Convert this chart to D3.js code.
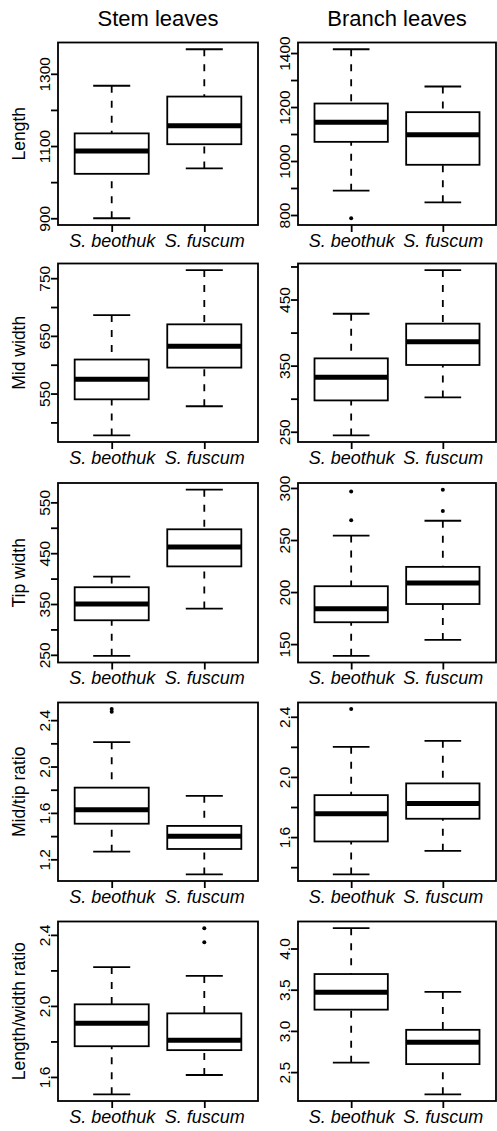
<!DOCTYPE html>
<html><head><meta charset="utf-8">
<script src="https://cdn.jsdelivr.net/npm/d3@7"></script>
<style>
body{margin:0;background:#fff}
svg{display:block}
text{font-family:"Liberation Sans",Arial,sans-serif;fill:#000}
</style>
</head><body><svg id="c" width="497" height="1131"></svg>
<script>
// ---------- data ----------
const species = ["S. beothuk", "S. fuscum"];
const leafTypes = ["Stem leaves", "Branch leaves"];
const measures = ["Length", "Mid width", "Tip width", "Mid/tip ratio", "Length/width ratio"];

// five-number summaries: [lower whisker, Q1, median, Q3, upper whisker], one per measure
const stemBeothuk = [
  [900, 1023, 1086, 1135, 1267],
  [477.5, 540, 575, 609, 686],
  [248, 318, 350, 383, 404],
  [1.266, 1.507, 1.628, 1.818, 2.21],
  [1.502, 1.773, 1.902, 2.009, 2.219]
];
const stemFuscum = [
  [1038, 1105, 1156, 1237, 1368],
  [528, 595, 632, 670, 764],
  [341, 424, 462, 497, 575],
  [1.07, 1.289, 1.399, 1.488, 1.747],
  [1.611, 1.751, 1.807, 1.958, 2.169]
];
const branchBeothuk = [
  [890, 1071, 1144, 1213, 1414],
  [244.5, 297.4, 332.5, 361, 428.5],
  [138.7, 171, 184, 205.6, 254.3],
  [1.352, 1.571, 1.755, 1.879, 2.2],
  [2.614, 3.258, 3.468, 3.69, 4.247]
];
const branchFuscum = [
  [847, 986, 1097, 1181, 1276],
  [302, 351, 386, 413.5, 494.5],
  [154, 188.5, 208.8, 224.2, 268.5],
  [1.509, 1.722, 1.824, 1.957, 2.24],
  [2.23, 2.597, 2.863, 3.013, 3.473]
];

// outliers, one list per measure
const stemBeothukOut = [[], [], [], [2.472, 2.495], []];
const stemFuscumOut = [[], [], [], [], [2.359, 2.438]];
const branchBeothukOut = [[788], [], [269, 296.7], [2.451], []];
const branchFuscumOut = [[], [], [278, 298.4], [], []];

// y ticks and their labels ("" = unlabeled tick)
const stemTicks = [
  [900, 1000, 1100, 1200, 1300],
  [500, 550, 600, 650, 700, 750],
  [250, 300, 350, 400, 450, 500, 550],
  [1.2, 1.4, 1.6, 1.8, 2.0, 2.2, 2.4],
  [1.6, 1.8, 2.0, 2.2, 2.4]
];
const stemTickLabels = [
  ["900", "", "1100", "", "1300"],
  ["", "550", "", "650", "", "750"],
  ["250", "", "350", "", "450", "", "550"],
  ["1.2", "", "1.6", "", "2.0", "", "2.4"],
  ["1.6", "", "2.0", "", "2.4"]
];
const branchTicks = [
  [800, 900, 1000, 1100, 1200, 1300, 1400],
  [250, 300, 350, 400, 450, 500],
  [150, 200, 250, 300],
  [1.4, 1.6, 1.8, 2.0, 2.2, 2.4],
  [2.5, 3.0, 3.5, 4.0]
];
const branchTickLabels = [
  ["800", "", "1000", "", "1200", "", "1400"],
  ["250", "", "350", "", "450", ""],
  ["150", "200", "250", "300"],
  ["", "1.6", "", "2.0", "", "2.4"],
  ["2.5", "3.0", "3.5", "4.0"]
];

// ---------- layout ----------
const colX = [58, 298], colW = [200, 198];
const rowTop = [42.5, 263.5, 483, 702.5, 921.5];
const rowH = [182.5, 178.5, 179.5, 178.5, 179.5];
const LW = 1.8;

const svg = d3.select("#c");
svg.append("rect").attr("width", 497).attr("height", 1131).attr("fill", "#fff");

const cols = [
  {stats: [stemBeothuk, stemFuscum], outs: [stemBeothukOut, stemFuscumOut], ticks: stemTicks, labels: stemTickLabels},
  {stats: [branchBeothuk, branchFuscum], outs: [branchBeothukOut, branchFuscumOut], ticks: branchTicks, labels: branchTickLabels}
];

cols.forEach((col, c) => {
  svg.append("text")
    .attr("x", colX[c] + colW[c] / 2).attr("y", 26)
    .attr("text-anchor", "middle").style("font-size", "22px")
    .text(leafTypes[c]);

  measures.forEach((m, r) => {
    const top = rowTop[r], bottom = rowTop[r] + rowH[r];
    const left = colX[c], right = colX[c] + colW[c];
    const all = [];
    col.stats.forEach((s, k) => { all.push(...s[r], ...col.outs[k][r]); });
    const lo = d3.min(all), hi = d3.max(all), pad = (hi - lo) * 0.04;
    const y = d3.scaleLinear().domain([lo - pad, hi + pad]).range([bottom, top]);
    const x = d3.scaleLinear().domain([0.42, 2.58]).range([left, right]);
    const g = svg.append("g");

    // y axis
    const ya = g.append("g").attr("transform", `translate(${left},0)`)
      .call(d3.axisLeft(y).tickValues(col.ticks[r]).tickSize(7).tickSizeOuter(0)
        .tickFormat((d, i) => col.labels[r][i]));
    ya.select(".domain").remove();
    ya.selectAll(".tick line").attr("stroke", "#000").attr("stroke-width", LW);
    ya.selectAll(".tick text")
      .attr("transform", "rotate(-90)").attr("x", 0).attr("y", -8).attr("dy", 0)
      .attr("text-anchor", "middle").attr("fill", "#000")
      .style("font-size", "15.5px").style("font-family", '"Liberation Sans",Arial,sans-serif');

    // x axis
    const xa = g.append("g").attr("transform", `translate(0,${bottom})`)
      .call(d3.axisBottom(x).tickValues([1, 2]).tickSize(7).tickSizeOuter(0)
        .tickFormat((d, i) => species[i]));
    xa.select(".domain").remove();
    xa.selectAll(".tick line").attr("stroke", "#000").attr("stroke-width", LW);
    xa.selectAll(".tick text").attr("y", 21.5).attr("dy", 0).attr("fill", "#000")
      .style("font-size", "18px").style("font-style", "italic")
      .style("font-family", '"Liberation Sans",Arial,sans-serif');

    // y title
    if (c === 0) {
      g.append("text")
        .attr("transform", `translate(25,${(top + bottom) / 2}) rotate(-90)`)
        .attr("text-anchor", "middle").style("font-size", "17.5px")
        .text(m);
    }

    // boxes
    col.stats.forEach((s, k) => {
      const v = s[r], cx = x(k + 1);
      const hw = x(k + 1 + 0.4) - cx, sw = x(k + 1 + 0.2) - cx;
      // whiskers (dashed), from whisker ends to hinges
      g.append("line").attr("x1", cx).attr("x2", cx).attr("y1", y(v[0])).attr("y2", y(v[1]))
        .attr("stroke", "#000").attr("stroke-width", LW).attr("stroke-dasharray", "7,8");
      g.append("line").attr("x1", cx).attr("x2", cx).attr("y1", y(v[4])).attr("y2", y(v[3]))
        .attr("stroke", "#000").attr("stroke-width", LW).attr("stroke-dasharray", "7,8");
      // staples
      [v[0], v[4]].forEach(val => {
        g.append("line").attr("x1", cx - sw).attr("x2", cx + sw).attr("y1", y(val)).attr("y2", y(val))
          .attr("stroke", "#000").attr("stroke-width", LW);
      });
      // box
      g.append("rect").attr("x", cx - hw).attr("width", 2 * hw)
        .attr("y", y(v[3])).attr("height", y(v[1]) - y(v[3]))
        .attr("fill", "#fff").attr("stroke", "#000").attr("stroke-width", LW);
      // median
      g.append("line").attr("x1", cx - hw).attr("x2", cx + hw).attr("y1", y(v[2])).attr("y2", y(v[2]))
        .attr("stroke", "#000").attr("stroke-width", 5);
      // outliers
      col.outs[k][r].forEach(o => {
        g.append("circle").attr("cx", cx).attr("cy", y(o)).attr("r", 2).attr("fill", "#000");
      });
    });

    // panel frame
    g.append("rect").attr("x", left).attr("y", top).attr("width", right - left).attr("height", bottom - top)
      .attr("fill", "none").attr("stroke", "#000").attr("stroke-width", LW);
  });
});
</script>
</body></html>
